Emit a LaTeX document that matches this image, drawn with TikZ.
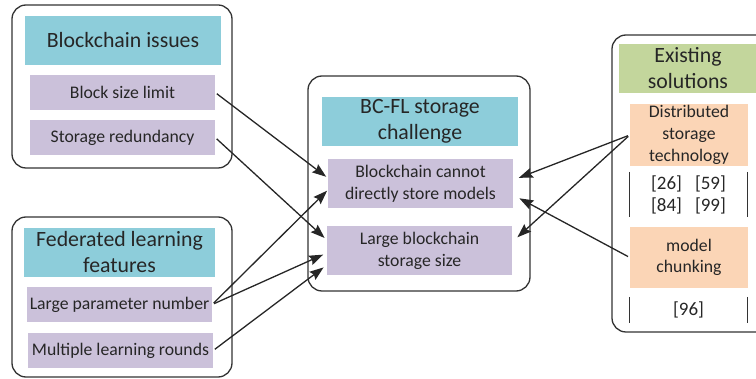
\documentclass[tikz,border=0pt]{standalone}
\usepackage{fontspec}
\setmainfont{Carlito}
\usetikzlibrary{arrows.meta,positioning}
\definecolor{headcyan}{HTML}{8DCDDA}
\definecolor{itempurple}{HTML}{CBC1DA}
\definecolor{solgreen}{HTML}{C3D69C}
\definecolor{solpeach}{HTML}{FBD5B6}

\begin{document}
\begin{tikzpicture}[x=1pt,y=-1pt,
    group/.style={draw=black!80,line width=1.3pt,rounded corners=14pt},
    head/.style={fill=headcyan,minimum width=196pt,minimum height=49pt,inner sep=0pt,align=center,text=black!85,font=\fontsize{21.8}{26}\selectfont},
    item/.style={fill=itempurple,minimum width=185pt,minimum height=35pt,inner sep=0pt,align=center,text=black!85,font=\fontsize{17.7}{22}\selectfont},
    sol/.style={fill=solpeach,minimum width=118pt,minimum height=62pt,inner sep=0pt,align=center,text=black!85,font=\fontsize{17.7}{21.7}\selectfont},
    refs/.style={minimum width=117pt,inner sep=0pt,align=center,text=black!85,font=\fontsize{19}{22}\selectfont},
    bar/.style={draw=black!80,line width=1.3pt},
    link/.style={-{Stealth[length=14pt,width=10pt,inset=2pt]},line width=1.3pt,draw=black!85,shorten <=2pt}]
    \useasboundingbox (0,0) rectangle (756,379);

    % blockchain issues
    \draw[group] (12,5) rectangle (232,168);
    \node[head] (h1) at (123,40.5) {Blockchain issues};
    \node[item] (i1) at (122.5,92.5) {Block size limit};
    \node[item] (i2) at (122.5,137.5) {Storage redundancy};

    % federated learning features
    \draw[group] (12,217) rectangle (232,377);
    \node[head,minimum width=191pt] (h2) at (119.5,252.5) {Federated learning\\features};
    \node[item] (i3) at (119.5,304.5) {Large parameter number};
    \node[item] (i4) at (120.5,350.5) {Multiple learning rounds};

    % storage challenge
    \draw[group] (308,76) rectangle (530,291);
    \node[head] (h3) at (420,121.5) {BC-FL storage\\challenge};
    \node[item,minimum height=49pt] (c1) at (420.5,183.5) {Blockchain cannot\\directly store models};
    \node[item,minimum height=49pt] (c2) at (419.5,250.5) {Large blockchain\\storage size};

    % existing solutions
    \draw[group] (612,35) rectangle (790,332);
    \node[head,fill=solgreen,minimum width=138pt] (h4) at (688,68.5) {Existing\\solutions};
    \node[sol] (s1) at (689,135) {Distributed\\storage\\technology};
    \node[refs,minimum height=45pt] (r1) at (688.5,194.5) {[26]\hspace{13pt}[59]\\{}[84]\hspace{13pt}[99]};
    \node[sol,minimum height=61pt] (s2) at (689,257.5) {model\\chunking};
    \node[refs,minimum height=26pt] (r2) at (688.5,310) {[96]};
    \foreach \r in {r1,r2}{
        \draw[bar] (\r.north west) -- (\r.south west);
        \draw[bar] (\r.north east) -- (\r.south east);
    }

    \draw[link,shorten >=2pt] (i1.east) -- ([yshift=5.5pt]c1.west);
    \draw[link,shorten >=3pt] (i2.east) -- ([yshift=10.5pt]c2.west);
    \draw[link,shorten >=1pt] (i3.east) -- ([yshift=-6.5pt]c1.west);
    \draw[link,shorten >=4pt] (i3.east) -- ([yshift=-2.5pt]c2.west);
    \draw[link,shorten >=4pt] (i4.east) -- ([yshift=-14.5pt]c2.west);

    \draw[link,shorten >=6pt] (s1.west) -- ([yshift=3.5pt]c1.east);
    \draw[link,shorten >=7pt] (s1.west) -- ([yshift=8.5pt]c2.east);
    \draw[link,shorten >=7pt] (s2.west) -- ([yshift=-11.5pt]c1.east);
\end{tikzpicture}
\end{document}
